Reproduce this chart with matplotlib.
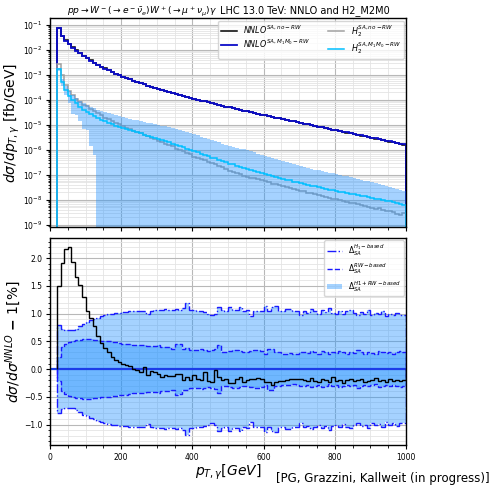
import numpy as np
import matplotlib
matplotlib.use('Agg')
import matplotlib.pyplot as plt
from matplotlib.ticker import MultipleLocator, LogLocator, NullFormatter
from matplotlib.patches import Patch
from matplotlib.lines import Line2D

# p_T,gamma bins: 20 ... 1000 GeV in 10 GeV steps
edges = np.arange(20, 1001, 10)

# log10 of dsigma/dpT [fb/GeV], one value per bin
nnlo_m1m0_log = [
    -1.13, -1.43, -1.62, -1.77, -1.90, -2.02, -2.13, -2.23, -2.33,
    -2.42, -2.51, -2.59, -2.67, -2.74, -2.81, -2.88, -2.94, -3.01, -3.07,
    -3.12, -3.17, -3.22, -3.27, -3.32, -3.37, -3.42, -3.46, -3.51, -3.55,
    -3.60, -3.64, -3.68, -3.72, -3.76, -3.80, -3.84, -3.87, -3.91, -3.95,
    -3.98, -4.02, -4.05, -4.09, -4.12, -4.16, -4.19, -4.23, -4.26, -4.29,
    -4.32, -4.36, -4.39, -4.42, -4.45, -4.49, -4.52, -4.55, -4.58, -4.61,
    -4.64, -4.67, -4.70, -4.73, -4.76, -4.79, -4.82, -4.85, -4.88, -4.91,
    -4.94, -4.97, -5.00, -5.03, -5.06, -5.09, -5.12, -5.15, -5.18, -5.21,
    -5.24, -5.27, -5.30, -5.33, -5.36, -5.39, -5.42, -5.45, -5.48, -5.51,
    -5.54, -5.57, -5.60, -5.63, -5.66, -5.69, -5.72, -5.75, -5.78]

h2_m1m0_log = [
    -2.76, -3.27, -3.58, -3.82, -3.98, -4.13, -4.27, -4.38, -4.48,
    -4.57, -4.65, -4.72, -4.79, -4.85, -4.91, -4.97, -5.02, -5.07, -5.12,
    -5.16, -5.21, -5.25, -5.30, -5.34, -5.39, -5.43, -5.47, -5.51, -5.55,
    -5.61, -5.66, -5.70, -5.76, -5.81, -5.86, -5.90, -5.96, -6.00, -6.06,
    -6.10, -6.16, -6.19, -6.25, -6.31, -6.34, -6.41, -6.45, -6.49, -6.55,
    -6.58, -6.64, -6.67, -6.72, -6.75, -6.80, -6.84, -6.88, -6.92, -6.97,
    -7.00, -7.05, -7.07, -7.12, -7.15, -7.19, -7.22, -7.27, -7.30, -7.34,
    -7.37, -7.41, -7.43, -7.46, -7.50, -7.52, -7.56, -7.59, -7.61, -7.65,
    -7.67, -7.70, -7.73, -7.75, -7.78, -7.80, -7.84, -7.86, -7.89, -7.92,
    -7.95, -7.97, -8.00, -8.03, -8.05, -8.09, -8.11, -8.15, -8.20]

h2_no_rw_log = [
    -2.57, -3.00, -3.40, -3.62, -3.80, -3.95, -4.06, -4.18, -4.25,
    -4.36, -4.45, -4.52, -4.61, -4.70, -4.76, -4.84, -4.90, -4.97, -5.05,
    -5.10, -5.17, -5.22, -5.27, -5.34, -5.40, -5.44, -5.52, -5.56, -5.65,
    -5.68, -5.75, -5.82, -5.86, -5.95, -6.00, -6.04, -6.12, -6.17, -6.28,
    -6.33, -6.38, -6.42, -6.48, -6.54, -6.58, -6.66, -6.70, -6.76, -6.83,
    -6.87, -6.93, -6.96, -7.03, -7.07, -7.12, -7.11, -7.16, -7.22, -7.25,
    -7.29, -7.35, -7.38, -7.42, -7.43, -7.48, -7.52, -7.57, -7.60, -7.64,
    -7.66, -7.72, -7.74, -7.77, -7.82, -7.84, -7.90, -7.91, -7.95, -7.98,
    -8.02, -8.03, -8.08, -8.12, -8.14, -8.18, -8.22, -8.24, -8.28, -8.31,
    -8.35, -8.34, -8.40, -8.44, -8.45, -8.50, -8.55, -8.60, -8.52]

# uncertainty band of H2 (M1M0 reweighted), log10
band_up_log = [
    -2.70, -3.15, -3.45, -3.65, -3.80, -3.93, -4.03, -4.12, -4.20, -4.27,
    -4.33, -4.39, -4.44, -4.49, -4.53, -4.57, -4.61, -4.65, -4.68, -4.72,
    -4.75, -4.78, -4.81, -4.84, -4.87, -4.90, -4.93, -4.96, -4.99, -5.02,
    -5.05, -5.07, -5.10, -5.14, -5.19, -5.23, -5.28, -5.33, -5.38, -5.42,
    -5.47, -5.51, -5.56, -5.61, -5.65, -5.70, -5.75, -5.80, -5.85, -5.89,
    -5.92, -5.95, -5.98, -6.02, -6.05, -6.10, -6.15, -6.20, -6.26, -6.30,
    -6.34, -6.38, -6.42, -6.46, -6.50, -6.54, -6.58, -6.62, -6.66, -6.70,
    -6.73, -6.76, -6.79, -6.82, -6.85, -6.88, -6.91, -6.94, -6.97, -7.00,
    -7.03, -7.06, -7.10, -7.13, -7.16, -7.20, -7.23, -7.26, -7.30, -7.33,
    -7.37, -7.41, -7.45, -7.49, -7.53, -7.57, -7.61, -7.65]
# lower edge; it reaches zero from 130 GeV on
band_lo_log = [-2.85, -3.45, -3.80, -4.10, -4.55, -4.60, -4.85, -5.15, -5.20,
               -5.85, -6.20]
n_band_zero = 87

# ratio panel [%]
ratio_no_rw = [
    1.50, 1.92, 2.17, 2.21, 1.94, 1.67, 1.52, 1.30, 1.05, 0.93,
    0.78, 0.60, 0.47, 0.38, 0.31, 0.22, 0.17, 0.13, 0.10, 0.07, 0.05,
    0.01, -0.02, -0.05, 0.04, -0.11, -0.03, -0.05, -0.08, -0.14, -0.11,
    -0.13, -0.12, -0.08, -0.09, -0.19, -0.14, -0.20, -0.11, -0.17, -0.20,
    -0.06, -0.21, -0.23, -0.02,
    -0.14, -0.20, -0.17, -0.26, -0.26, -0.17, -0.14, -0.23, -0.20, -0.17,
    -0.18, -0.16, -0.17, -0.23, -0.23, -0.29, -0.23, -0.22, -0.22, -0.20,
    -0.17, -0.18, -0.18, -0.17,
    -0.19, -0.21, -0.16, -0.22, -0.24, -0.18, -0.20, -0.23, -0.15, -0.21,
    -0.19, -0.25, -0.20, -0.17, -0.22, -0.20, -0.18, -0.24, -0.21, -0.19,
    -0.16, -0.22, -0.20, -0.23, -0.18, -0.21, -0.19, -0.22, -0.20]

delta_h1 = [
    0.80, 0.72, 0.70, 0.70, 0.71, 0.73, 0.78, 0.82, 0.85, 0.88,
    0.90, 0.93, 0.95, 0.97, 0.99, 1.00, 1.01, 1.02, 1.03, 1.03, 1.04,
    1.05, 1.05, 1.04, 1.05, 0.99, 1.05, 1.07, 1.07, 1.06, 1.08,
    1.07, 1.07, 1.08, 1.06, 1.10, 1.19, 1.07, 1.06, 1.05, 1.05,
    1.03, 1.00, 0.98, 1.00,
    1.12, 1.06, 1.05, 1.12, 1.07, 1.06, 1.12, 1.05, 1.07, 0.96,
    1.04, 1.05, 1.04, 1.14, 1.05, 1.12, 1.13, 1.04, 1.04, 1.09,
    1.09, 1.04, 1.04, 0.98,
    1.05, 1.02, 1.08, 1.04, 1.00, 1.06, 1.03, 1.10, 1.02, 1.00,
    1.05, 0.99, 1.04, 1.07, 1.01, 0.98, 1.03, 1.00, 1.06, 0.97,
    1.01, 0.99, 1.04, 0.96, 1.00, 0.98, 1.02, 0.97, 0.98]

delta_rw = [
    0.22, 0.40, 0.45, 0.48, 0.50, 0.52, 0.53, 0.54, 0.54, 0.54,
    0.53, 0.52, 0.51, 0.51, 0.50, 0.49, 0.48, 0.47, 0.46, 0.46, 0.45,
    0.44, 0.44, 0.43, 0.44, 0.42, 0.42, 0.41, 0.43, 0.40, 0.40,
    0.40, 0.37, 0.46, 0.45, 0.37, 0.38, 0.35, 0.34, 0.34, 0.36,
    0.34, 0.33, 0.35, 0.36,
    0.43, 0.31, 0.31, 0.33, 0.34, 0.34, 0.33, 0.31, 0.31, 0.33,
    0.34, 0.34, 0.32, 0.28, 0.37, 0.37, 0.31, 0.31, 0.28, 0.28,
    0.29, 0.27, 0.28, 0.30,
    0.31, 0.29, 0.33, 0.30, 0.28, 0.32, 0.30, 0.27, 0.31, 0.29,
    0.33, 0.30, 0.28, 0.31, 0.29, 0.34, 0.30, 0.28, 0.31, 0.29,
    0.27, 0.32, 0.30, 0.29, 0.31, 0.28, 0.30, 0.33, 0.30]

floor = 1e-12
nnlo_m1m0 = 10 ** np.array(nnlo_m1m0_log)
nnlo_no_rw = nnlo_m1m0 * (1 + np.array(ratio_no_rw) / 100)
h2_m1m0 = 10 ** np.array(h2_m1m0_log)
h2_no_rw = 10 ** np.array(h2_no_rw_log)
band_up = 10 ** np.array(band_up_log)
band_lo = np.concatenate([10 ** np.array(band_lo_log), np.full(n_band_zero, floor)])
h1 = np.array(delta_h1)
rw = np.array(delta_rw)

blue = '#0c0cc8'
dblue = '#1a1aff'

fig = plt.figure(figsize=(4.93, 4.87), dpi=100)
ax1 = fig.add_axes([0.1014, 0.5345, 0.7221, 0.4279])
ax2 = fig.add_axes([0.1014, 0.0862, 0.7221, 0.4257], sharex=ax1)

# --- upper panel
ax1.stairs(nnlo_no_rw, edges, baseline=floor, color='k', lw=1.1, zorder=2.1,
           label=r'$NNLO^{SA,no-RW}$')
ax1.stairs(nnlo_m1m0, edges, baseline=floor, color=blue, lw=1.3, zorder=2.2,
           label=r'$NNLO^{SA,M_1M_0-RW}$')
ax1.stairs(h2_no_rw, edges, baseline=floor, color='#a0a0a0', lw=1.1, zorder=2.3,
           label=r'$H_2^{SA,no-RW}$')
ax1.fill_between(edges, np.append(band_lo, band_lo[-1]), np.append(band_up, band_up[-1]),
                 step='post', color='dodgerblue', alpha=0.4, lw=0, zorder=2.35)
ax1.stairs(h2_m1m0, edges, baseline=floor, color='deepskyblue', lw=1.1, zorder=2.4,
           label=r'$H_2^{SA,M_1M_0-RW}$')

ax1.set_yscale('log')
ax1.set_ylim(10 ** -9.07, 10 ** -0.73)
ax1.set_xlim(0, 1000)
ax1.yaxis.set_major_locator(LogLocator(base=10, numticks=20))
ax1.yaxis.set_minor_locator(LogLocator(base=10, subs=np.arange(2, 10), numticks=200))
ax1.yaxis.set_minor_formatter(NullFormatter())
ax1.set_ylabel(r'$d\sigma/dp_{T,\gamma}$ [fb/GeV]', fontsize=10)
ax1.yaxis.set_label_coords(-0.078, 0.5)
ax1.text(0.048, 1.035, r'$pp\to W^-(\to e^-\bar{\nu}_e)W^+(\to\mu^+\nu_\mu)\gamma$',
         transform=ax1.transAxes, ha='left', va='center', fontsize=6.6)
ax1.text(0.478, 1.035, 'LHC 13.0 TeV: NNLO and H2_M2M0',
         transform=ax1.transAxes, ha='left', va='center', fontsize=7)
ax1.tick_params(labelbottom=False)
ax1.legend(loc='upper right', ncol=2, fontsize=5.8, handlelength=2.0,
           columnspacing=2.2, labelspacing=0.2, borderpad=0.3,
           borderaxespad=0.3)

# --- ratio panel
ax2.fill_between(edges, np.append(-h1, -h1[-1]), np.append(h1, h1[-1]), step='post',
                 color='dodgerblue', alpha=0.4, lw=0, zorder=2)
ax2.fill_between(edges, np.append(-rw, -rw[-1]), np.append(rw, rw[-1]), step='post',
                 color='dodgerblue', alpha=0.4, lw=0, zorder=2)
ax2.stairs(h1, edges, baseline=0, color=dblue, lw=1.0, ls='-.', zorder=2.5)
ax2.stairs(-h1, edges, baseline=0, color=dblue, lw=1.0, ls='-.', zorder=2.5)
ax2.stairs(rw, edges, baseline=0, color=dblue, lw=1.0, ls='--', zorder=2.5)
ax2.stairs(-rw, edges, baseline=0, color=dblue, lw=1.0, ls='--', zorder=2.5)
ax2.axhline(0, color='#1c3ce8', lw=1.6, zorder=2.6)
ax2.stairs(ratio_no_rw, edges, baseline=0, color='k', lw=1.0, zorder=2.7)

ax2.set_ylim(-1.37, 2.37)
ax2.yaxis.set_major_locator(MultipleLocator(0.5))
ax2.yaxis.set_minor_locator(MultipleLocator(0.1))
ax2.set_ylabel(r'$d\sigma/d\sigma^{NNLO}$ $\mathbf{-}$ 1[%]', fontsize=10)
ax2.yaxis.set_label_coords(-0.075, 0.5)
ax2.set_xlabel(r'$p_{T,\gamma}[GeV]$', fontsize=10, labelpad=0.5)
handles = [Line2D([], [], color=dblue, ls='-.', lw=1.0),
           Line2D([], [], color=dblue, ls='--', lw=1.0),
           Patch(facecolor='dodgerblue', alpha=0.4)]
labels = [r'$\Delta_{SA}^{H_1-based}$', r'$\Delta_{SA}^{RW-based}$',
          r'$\Delta_{SA}^{H1+RW-based}$']
ax2.legend(handles, labels, loc='upper right', fontsize=5.5, borderaxespad=0.3,
           labelspacing=0.35, borderpad=0.35, handlelength=2.0)

for ax in (ax1, ax2):
    ax.xaxis.set_major_locator(MultipleLocator(200))
    ax.xaxis.set_minor_locator(MultipleLocator(50))
    ax.grid(which='major', color='#b8b8b8', lw=0.8)
    ax.grid(which='minor', color='#e4e4e4', lw=0.6)
    ax.tick_params(which='major', labelsize=5.5, length=3, pad=2.5)
    ax.tick_params(which='minor', length=1.8)
    for s in ax.spines.values():
        s.set_linewidth(1.0)
        s.set_zorder(3)

fig.text(0.994, 0.004, '[PG, Grazzini, Kallweit (in progress)]',
         ha='right', va='bottom', fontsize=8.5)

fig.savefig('out.png', dpi=100)
